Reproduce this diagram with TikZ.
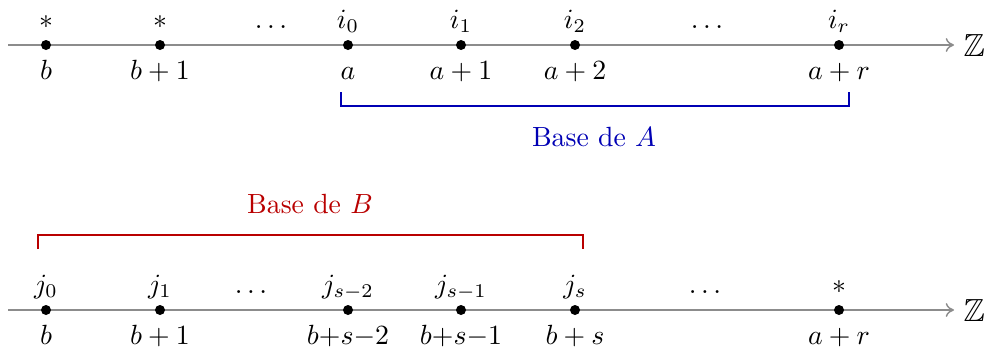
\documentclass[tikz,border=0pt]{standalone}
\usepackage{amssymb}
\usetikzlibrary{arrows.meta}
\definecolor{baseA}{RGB}{0,0,180}
\definecolor{baseB}{RGB}{185,0,0}
\tikzset{
  pt/.style={circle,fill=black,inner sep=0pt,minimum size=3.6pt},
  lab/.style={anchor=base,inner sep=0pt},
  zlab/.style={anchor=west,inner sep=0pt,font=\fontsize{11.5pt}{13pt}\selectfont},
  axis/.style={draw=black!45,line width=0.5pt,-{To[length=3pt,width=5pt]}},
  brace/.style={line width=0.8pt}
}
\begin{document}
\begin{tikzpicture}[x=0.36pt,y=-0.36pt]
\useasboundingbox (0,0) rectangle (987,350);
% ---- top axis
\coordinate (ta0) at (8,45);
\coordinate (ta1) at (954,45);
\draw[axis] (ta0) -- (ta1);
\node[zlab] (Z1) at (963,45) {$\mathbb{Z}$};
\foreach \n/\x in {1/46,2/160,3/348,4/461,5/575,6/839}
  \node[pt] (p\n) at (\x,45) {};
\node[lab] (u1) at (46,28) {$*$};
\node[lab] (u2) at (160,28) {$*$};
\node[lab] (ud1) at (271,28) {$\dots$};
\node[lab] (u3) at (348,28) {$i_0$};
\node[lab] (u4) at (461,28) {$i_1$};
\node[lab] (u5) at (575,28) {$i_2$};
\node[lab] (ud2) at (707,28) {$\dots$};
\node[lab] (u6) at (839,28) {$i_r$};
\node[lab] (l1) at (46,79) {$b$};
\node[lab] (l2) at (160,79) {$b+1$};
\node[lab] (l3) at (348,79) {$a$};
\node[lab] (l4) at (461,79) {$a+1$};
\node[lab] (l5) at (575,79) {$a+2$};
\node[lab] (l6) at (839,79) {$a+r$};
% blue bracket
\coordinate (A0) at (341,92);
\coordinate (A1) at (341,106);
\coordinate (A2) at (849,106);
\coordinate (A3) at (849,92);
\draw[brace,baseA] (A0) -- (A1) -- (A2) -- (A3);
\node[lab,text=baseA] (tA) at (594,146) {Base de $A$};
% ---- bottom axis
\coordinate (ba0) at (8,310);
\coordinate (ba1) at (954,310);
\draw[axis] (ba0) -- (ba1);
\node[zlab] (Z2) at (963,310) {$\mathbb{Z}$};
\foreach \n/\x in {1/46,2/160,3/348,4/461,5/575,6/839}
  \node[pt] (q\n) at (\x,310) {};
\node[lab] (v1) at (46,293) {$j_0$};
\node[lab] (v2) at (160,293) {$j_1$};
\node[lab] (vd1) at (251,293) {$\dots$};
\node[lab] (v3) at (348,293) {$j_{s-2}$};
\node[lab] (v4) at (461,293) {$j_{s-1}$};
\node[lab] (v5) at (575,293) {$j_s$};
\node[lab] (vd2) at (705,293) {$\dots$};
\node[lab] (v6) at (839,293) {$*$};
\node[lab] (m1) at (46,344) {$b$};
\node[lab] (m2) at (160,344) {$b+1$};
\node[lab] (m3) at (348,344) {$b{+}s{-}2$};
\node[lab] (m4) at (461,344) {$b{+}s{-}1$};
\node[lab] (m5) at (575,344) {$b+s$};
\node[lab] (m6) at (839,344) {$a+r$};
% red bracket
\coordinate (B0) at (38,249);
\coordinate (B1) at (38,235);
\coordinate (B2) at (583,235);
\coordinate (B3) at (583,249);
\draw[brace,baseB] (B0) -- (B1) -- (B2) -- (B3);
\node[lab,text=baseB] (tB) at (310,213) {Base de $B$};
\end{tikzpicture}
\end{document}
